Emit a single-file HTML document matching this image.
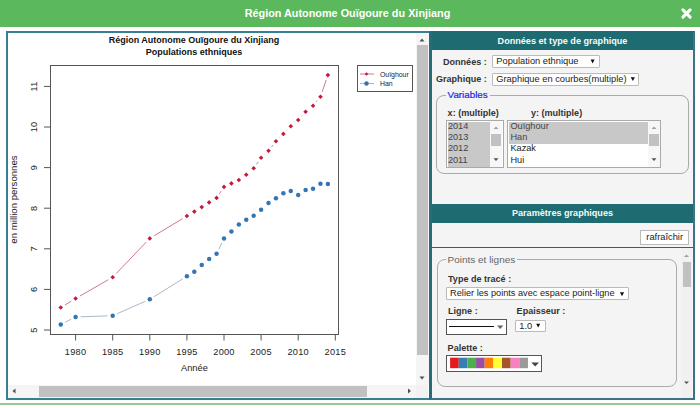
<!DOCTYPE html>
<html><head><meta charset="utf-8">
<style>
*{box-sizing:border-box;margin:0;padding:0}
html,body{width:700px;height:408px;overflow:hidden;background:#fff;font-family:"Liberation Sans",sans-serif;}
.abs{position:absolute}
#hdr{left:0;top:0;width:700px;height:26.5px;background:#5cb85c;}
#hdr .t{position:absolute;left:0;width:695px;top:7px;text-align:center;color:#fff;font-weight:bold;font-size:10.85px;white-space:nowrap}
#close{position:absolute;left:679.9px;top:6.5px;width:13px;height:13px}
#lp{left:6px;top:31px;width:425px;height:369px;border:2px solid #3a7f91;background:#fff}
#rp{left:429px;top:31px;width:266px;height:369px;border:2px solid #286c77;border-left-width:3px;border-right-color:#3c7486;border-bottom-color:#3c7486;background:#f4f4f4}
.th{position:absolute;background:#1f6b72;color:#f4fbfb;font-weight:bold;font-size:9.1px;text-align:center;white-space:nowrap}
.lbl{position:absolute;font-weight:bold;font-size:9.05px;color:#333;white-space:nowrap}
.sel{position:absolute;background:#fff;border:1px solid #bbb;border-radius:1px;font-size:9.3px;color:#222;white-space:nowrap;padding-left:3px}
.fs{position:absolute;border:1px solid #aaa;border-radius:8px}
.lg{position:absolute;background:#f4f4f4;padding:0 2px;font-size:9.8px;white-space:nowrap}
.lb{position:absolute;background:#fff;border:1px solid #aaa;font-size:9.2px;color:#222}
.lb div{height:11.4px;line-height:9.4px;white-space:nowrap}
.lb .s{background:#c8c8c8;color:#444}
.sb{position:absolute;background:#f5f5f5}
.th2{position:absolute;background:#c1c1c1}
svg text{font-family:"Liberation Sans",sans-serif}
.tk{font-size:9.2px;fill:#222;letter-spacing:0.25px}
</style></head><body>
<div id="hdr" class="abs"><div class="t">Région Autonome Ouïgoure du Xinjiang</div>
<svg id="close" viewBox="0 0 13 13"><path d="M2.9 2.9L10.1 10.1M10.1 2.9L2.9 10.1" stroke="#fff" stroke-width="3.1" stroke-linecap="round"/></svg></div>

<div id="lp" class="abs"></div>
<svg class="abs" style="left:0;top:0" width="700" height="408" viewBox="0 0 700 408">
<text x="194" y="43" text-anchor="middle" style="font-size:9px;font-weight:bold;fill:#111">Région Autonome Ouïgoure du Xinjiang</text>
<text x="194" y="54.5" text-anchor="middle" style="font-size:9px;font-weight:bold;fill:#111">Populations ethniques</text>
<rect x="50.5" y="65.5" width="288" height="269" fill="none" stroke="#555" stroke-width="1"/>
<line x1="44" y1="330.0" x2="50.5" y2="330.0" stroke="#555" stroke-width="1"/>
<text transform="translate(36.7 330.0) rotate(-90)" text-anchor="middle" class="tk">5</text>
<line x1="44" y1="289.4" x2="50.5" y2="289.4" stroke="#555" stroke-width="1"/>
<text transform="translate(36.7 289.4) rotate(-90)" text-anchor="middle" class="tk">6</text>
<line x1="44" y1="248.8" x2="50.5" y2="248.8" stroke="#555" stroke-width="1"/>
<text transform="translate(36.7 248.8) rotate(-90)" text-anchor="middle" class="tk">7</text>
<line x1="44" y1="208.2" x2="50.5" y2="208.2" stroke="#555" stroke-width="1"/>
<text transform="translate(36.7 208.2) rotate(-90)" text-anchor="middle" class="tk">8</text>
<line x1="44" y1="167.6" x2="50.5" y2="167.6" stroke="#555" stroke-width="1"/>
<text transform="translate(36.7 167.6) rotate(-90)" text-anchor="middle" class="tk">9</text>
<line x1="44" y1="127.0" x2="50.5" y2="127.0" stroke="#555" stroke-width="1"/>
<text transform="translate(36.7 127.0) rotate(-90)" text-anchor="middle" class="tk">10</text>
<line x1="44" y1="86.4" x2="50.5" y2="86.4" stroke="#555" stroke-width="1"/>
<text transform="translate(36.7 86.4) rotate(-90)" text-anchor="middle" class="tk">11</text>
<line x1="75.6" y1="334.5" x2="75.6" y2="340.5" stroke="#555" stroke-width="1"/>
<text x="75.6" y="355.3" text-anchor="middle" class="tk">1980</text>
<line x1="112.7" y1="334.5" x2="112.7" y2="340.5" stroke="#555" stroke-width="1"/>
<text x="112.7" y="355.3" text-anchor="middle" class="tk">1985</text>
<line x1="149.8" y1="334.5" x2="149.8" y2="340.5" stroke="#555" stroke-width="1"/>
<text x="149.8" y="355.3" text-anchor="middle" class="tk">1990</text>
<line x1="186.9" y1="334.5" x2="186.9" y2="340.5" stroke="#555" stroke-width="1"/>
<text x="186.9" y="355.3" text-anchor="middle" class="tk">1995</text>
<line x1="224.0" y1="334.5" x2="224.0" y2="340.5" stroke="#555" stroke-width="1"/>
<text x="224.0" y="355.3" text-anchor="middle" class="tk">2000</text>
<line x1="261.1" y1="334.5" x2="261.1" y2="340.5" stroke="#555" stroke-width="1"/>
<text x="261.1" y="355.3" text-anchor="middle" class="tk">2005</text>
<line x1="298.2" y1="334.5" x2="298.2" y2="340.5" stroke="#555" stroke-width="1"/>
<text x="298.2" y="355.3" text-anchor="middle" class="tk">2010</text>
<line x1="335.3" y1="334.5" x2="335.3" y2="340.5" stroke="#555" stroke-width="1"/>
<text x="335.3" y="355.3" text-anchor="middle" class="tk">2015</text>
<path d="M65.04 304.91L71.32 301.09M79.94 296.01L108.36 279.69M116.16 273.59L146.34 242.01M154.08 235.82L182.62 218.58M219.38 193.75L221.20 191.05M256.57 164.22L258.21 161.88M264.71 154.34L264.91 154.16M271.60 146.76L272.86 145.14M279.50 137.69L279.80 137.41M286.85 130.32L287.29 129.88M301.55 116.29L302.27 115.51M316.22 101.84L317.28 100.56M322.08 91.97L326.26 79.83" stroke="#d07890" stroke-width="1" fill="none"/>
<path d="M65.22 322.24L71.14 319.26M80.60 316.82L107.70 315.88M117.27 313.68L145.23 301.32M154.05 296.67L182.65 278.93M197.98 268.40L198.08 268.30M218.75 249.30L221.83 242.90M227.64 234.97L227.78 234.83M235.08 228.00L235.18 227.90" stroke="#aab8c8" stroke-width="1" fill="none"/>
<path d="M60.76 305.20L63.06 307.50L60.76 309.80L58.46 307.50Z" fill="#c41a3a"/>
<path d="M75.60 296.20L77.90 298.50L75.60 300.80L73.30 298.50Z" fill="#c41a3a"/>
<path d="M112.70 274.90L115.00 277.20L112.70 279.50L110.40 277.20Z" fill="#c41a3a"/>
<path d="M149.80 236.10L152.10 238.40L149.80 240.70L147.50 238.40Z" fill="#c41a3a"/>
<path d="M186.90 213.70L189.20 216.00L186.90 218.30L184.60 216.00Z" fill="#c41a3a"/>
<path d="M194.32 209.30L196.62 211.60L194.32 213.90L192.02 211.60Z" fill="#c41a3a"/>
<path d="M201.74 204.80L204.04 207.10L201.74 209.40L199.44 207.10Z" fill="#c41a3a"/>
<path d="M209.16 200.10L211.46 202.40L209.16 204.70L206.86 202.40Z" fill="#c41a3a"/>
<path d="M216.58 195.60L218.88 197.90L216.58 200.20L214.28 197.90Z" fill="#c41a3a"/>
<path d="M224.00 184.60L226.30 186.90L224.00 189.20L221.70 186.90Z" fill="#c41a3a"/>
<path d="M231.42 181.10L233.72 183.40L231.42 185.70L229.12 183.40Z" fill="#c41a3a"/>
<path d="M238.84 177.70L241.14 180.00L238.84 182.30L236.54 180.00Z" fill="#c41a3a"/>
<path d="M246.26 172.40L248.56 174.70L246.26 177.00L243.96 174.70Z" fill="#c41a3a"/>
<path d="M253.68 166.00L255.98 168.30L253.68 170.60L251.38 168.30Z" fill="#c41a3a"/>
<path d="M261.10 155.50L263.40 157.80L261.10 160.10L258.80 157.80Z" fill="#c41a3a"/>
<path d="M268.52 148.40L270.82 150.70L268.52 153.00L266.22 150.70Z" fill="#c41a3a"/>
<path d="M275.94 138.90L278.24 141.20L275.94 143.50L273.64 141.20Z" fill="#c41a3a"/>
<path d="M283.36 131.60L285.66 133.90L283.36 136.20L281.06 133.90Z" fill="#c41a3a"/>
<path d="M290.78 124.00L293.08 126.30L290.78 128.60L288.48 126.30Z" fill="#c41a3a"/>
<path d="M298.20 117.70L300.50 120.00L298.20 122.30L295.90 120.00Z" fill="#c41a3a"/>
<path d="M305.62 109.50L307.92 111.80L305.62 114.10L303.32 111.80Z" fill="#c41a3a"/>
<path d="M313.04 103.40L315.34 105.70L313.04 108.00L310.74 105.70Z" fill="#c41a3a"/>
<path d="M320.46 94.40L322.76 96.70L320.46 99.00L318.16 96.70Z" fill="#c41a3a"/>
<path d="M327.88 72.80L330.18 75.10L327.88 77.40L325.58 75.10Z" fill="#c41a3a"/>
<circle cx="60.76" cy="324.50" r="2.25" fill="#3576b2"/>
<circle cx="75.60" cy="317.00" r="2.25" fill="#3576b2"/>
<circle cx="112.70" cy="315.70" r="2.25" fill="#3576b2"/>
<circle cx="149.80" cy="299.30" r="2.25" fill="#3576b2"/>
<circle cx="186.90" cy="276.30" r="2.25" fill="#3576b2"/>
<circle cx="194.32" cy="271.80" r="2.25" fill="#3576b2"/>
<circle cx="201.74" cy="264.90" r="2.25" fill="#3576b2"/>
<circle cx="209.16" cy="259.10" r="2.25" fill="#3576b2"/>
<circle cx="216.58" cy="253.80" r="2.25" fill="#3576b2"/>
<circle cx="224.00" cy="238.40" r="2.25" fill="#3576b2"/>
<circle cx="231.42" cy="231.40" r="2.25" fill="#3576b2"/>
<circle cx="238.84" cy="224.50" r="2.25" fill="#3576b2"/>
<circle cx="246.26" cy="219.70" r="2.25" fill="#3576b2"/>
<circle cx="253.68" cy="215.80" r="2.25" fill="#3576b2"/>
<circle cx="261.10" cy="209.80" r="2.25" fill="#3576b2"/>
<circle cx="268.52" cy="203.10" r="2.25" fill="#3576b2"/>
<circle cx="275.94" cy="198.30" r="2.25" fill="#3576b2"/>
<circle cx="283.36" cy="193.30" r="2.25" fill="#3576b2"/>
<circle cx="290.78" cy="190.90" r="2.25" fill="#3576b2"/>
<circle cx="298.20" cy="195.00" r="2.25" fill="#3576b2"/>
<circle cx="305.62" cy="190.10" r="2.25" fill="#3576b2"/>
<circle cx="313.04" cy="188.80" r="2.25" fill="#3576b2"/>
<circle cx="320.46" cy="183.70" r="2.25" fill="#3576b2"/>
<circle cx="327.88" cy="184.00" r="2.25" fill="#3576b2"/>
<text x="194.4" y="371" text-anchor="middle" style="font-size:9.3px;fill:#222">Année</text>
<text transform="translate(16.6 199.5) rotate(-90)" text-anchor="middle" style="font-size:9.65px;fill:#222">en million personnes</text>
<rect x="357.5" y="65.5" width="55" height="26" fill="#fff" stroke="#555" stroke-width="1"/>
<line x1="360" y1="74" x2="374" y2="74" stroke="#d07890" stroke-width="1"/>
<path d="M366.5 72.2L368.3 74L366.5 75.8L364.7 74Z" fill="#c41a3a"/>
<line x1="360" y1="83.5" x2="374" y2="83.5" stroke="#aab8c8" stroke-width="1"/>
<circle cx="366.5" cy="83.5" r="2.2" fill="#3274b0"/>
<text x="380" y="76.5" style="font-size:6.9px;fill:#222">Ouïghour</text>
<text x="380" y="86" style="font-size:6.9px;fill:#222">Han</text>
</svg>
<!-- left scrollbars -->
<div class="sb" style="left:416px;top:33px;width:13px;height:352px"></div>
<div class="th2" style="left:416.6px;top:45px;width:11.6px;height:309.5px"></div>
<div class="sb" style="left:8px;top:385px;width:408px;height:13px"></div>
<div class="th2" style="left:39px;top:386px;width:328px;height:10.5px"></div>
<div class="sb" style="left:416px;top:385px;width:12px;height:13px;background:#f1f1f1"></div>
<svg class="abs" style="left:0;top:0" width="700" height="408">
<path d="M419.5 41.5L422 38.5L424.5 41.5Z" fill="#505050"/>
<path d="M419.5 376.5L422 379.5L424.5 376.5Z" fill="#505050"/>
<path d="M15.5 388.5L12.5 391L15.5 393.5Z" fill="#505050"/>
<path d="M408 388.5L411 391L408 393.5Z" fill="#505050"/>
</svg>

<div id="rp" class="abs"></div>
<div class="th" style="left:432px;width:261px;top:31px;height:18.5px;line-height:18.5px;padding-top:1px">Données et type de graphique</div>
<div class="lbl" style="left:443px;top:56.7px">Données :</div>
<div class="sel" style="left:492.3px;top:54.6px;width:107.3px;height:13.7px;line-height:11.5px">Population ethnique</div>
<div class="lbl" style="left:436px;top:73.7px">Graphique :</div>
<div class="sel" style="left:492.3px;top:72.5px;width:146.7px;height:13.3px;line-height:11.3px">Graphique en courbes(multiple)</div>
<svg class="abs" style="left:0;top:0" width="700" height="408">
<path d="M590.6 59.5L594.6 59.5L592.6 63.5Z" fill="#111"/>
<path d="M630.7 77.2L634.9 77.2L632.8 81.1Z" fill="#111"/>
</svg>
<div class="fs" style="left:436.2px;top:94.9px;width:253px;height:79px"></div>
<div class="lg" style="left:445.6px;top:89px;color:#2424e4;-webkit-text-stroke:0.2px #2424e4">Variables</div>
<div class="lbl" style="left:447.6px;top:107.5px">x: (multiple)</div>
<div class="lbl" style="left:530.9px;top:107.5px">y: (multiple)</div>
<div class="lb" style="left:445.9px;top:119.9px;width:58px;height:48px;padding:0.7px 1px">
 <div class="s" style="width:43px">2014</div><div class="s" style="width:43px">2013</div><div class="s" style="width:43px">2012</div><div class="s" style="width:43px">2011</div>
</div>
<div class="lb" style="left:507.1px;top:120px;width:153.5px;height:47.5px;padding:0.6px 1px">
 <div class="s" style="width:140px;padding-left:1.3px">Ouïghour</div><div class="s" style="width:140px;padding-left:1.3px">Han</div><div style="width:140px;padding-left:1.3px">Kazak</div><div style="width:140px;padding-left:1.3px">Hui</div>
</div>
<div class="sb" style="left:490px;top:121px;width:11.5px;height:46px;background:#f7f7f7"></div>
<div class="th2" style="left:491px;top:133.8px;width:9.8px;height:12.6px"></div>
<div class="sb" style="left:648px;top:121px;width:11.5px;height:45.5px;background:#f7f7f7"></div>
<div class="th2" style="left:649px;top:133.7px;width:9.8px;height:12px"></div>
<svg class="abs" style="left:0;top:0" width="700" height="408">
<path d="M493.5 129L496 126.5L498.5 129Z" fill="#a0a0a0"/>
<path d="M493.5 158.3L496 161L498.5 158.3Z" fill="#505050"/>
<path d="M651.5 129L654 126.5L656.5 129Z" fill="#a0a0a0"/>
<path d="M651.5 158.3L654 161L656.5 158.3Z" fill="#505050"/>
</svg>
<div class="th" style="left:432px;width:261px;top:204.1px;height:18.5px;line-height:18.5px">Paramètres graphiques</div>
<div class="abs" style="left:640px;top:230px;width:49.3px;height:14.8px;background:#fff;border:1px solid #bbb;font-size:9.3px;color:#222;text-align:center;line-height:12.5px">rafraîchir</div>
<div class="abs" style="left:432px;top:246.5px;width:261px;height:1.3px;background:#555"></div>
<div class="abs" style="left:432px;top:248px;width:261px;height:150px;background:#f4f4f4"></div>
<div class="fs" style="left:436.9px;top:259.4px;width:240px;height:127.6px"></div>
<div class="lg" style="left:445.6px;top:253.5px;color:#666;font-size:9.98px">Points et lignes</div>
<div class="sb" style="left:681.4px;top:248px;width:10.5px;height:150px;background:#f1f1f1"></div>
<div class="th2" style="left:682.5px;top:261.5px;width:8.5px;height:25.3px"></div>
<svg class="abs" style="left:0;top:0" width="700" height="408">
<path d="M684 257L686.5 254.5L689 257Z" fill="#a0a0a0"/>
<path d="M684 381.5L686.5 384L689 381.5Z" fill="#505050"/>
</svg>
<div class="lbl" style="left:448px;top:274px">Type de tracé :</div>
<div class="sel" style="left:446.3px;top:287.25px;width:183px;height:13px;line-height:11px;padding-left:2.8px;font-size:9.2px">Relier les points avec espace point-ligne</div>
<div class="lbl" style="left:448px;top:306px">Ligne :</div>
<div class="lbl" style="left:516.6px;top:306px">Epaisseur :</div>
<div class="abs" style="left:445.7px;top:318.5px;width:61.4px;height:16.3px;background:#fff;border:1px solid #555"></div>
<div class="abs" style="left:448.6px;top:326px;width:45.7px;height:1px;background:#111"></div>
<svg class="abs" style="left:0;top:0" width="700" height="408">
<path d="M619.9 292.2L624.1 292.2L622 296.2Z" fill="#111"/>
<path d="M497 325.5L503.4 325.5L500.2 329Z" fill="#666"/>
</svg>
<div class="sel" style="left:514.5px;top:319.5px;width:31px;height:12.8px;line-height:10.5px;padding-left:3.8px">1.0</div>
<svg class="abs" style="left:0;top:0" width="700" height="408"><path d="M536.2 323.8L540.2 323.8L538.2 327.6Z" fill="#111"/></svg>
<div class="lbl" style="left:447.6px;top:342.7px">Palette :</div>
<div class="abs" style="left:446.3px;top:354.9px;width:95.6px;height:16.8px;background:#fff;border:1px solid #555"></div>
<svg class="abs" style="left:0;top:0" width="700" height="408">
<rect x="450.1" y="357.7" width="8.65" height="10.5" fill="#e41a1c"/>
<rect x="458.75" y="357.7" width="8.65" height="10.5" fill="#377eb8"/>
<rect x="467.4" y="357.7" width="8.65" height="10.5" fill="#4daf4a"/>
<rect x="476.05" y="357.7" width="8.65" height="10.5" fill="#984ea3"/>
<rect x="484.7" y="357.7" width="8.65" height="10.5" fill="#ff7f00"/>
<rect x="493.35" y="357.7" width="8.65" height="10.5" fill="#ffff33"/>
<rect x="502" y="357.7" width="8.65" height="10.5" fill="#a65628"/>
<rect x="510.65" y="357.7" width="8.65" height="10.5" fill="#f781bf"/>
<rect x="519.3" y="357.7" width="8.65" height="10.5" fill="#999999"/>
<path d="M531.3 362.5L539 362.5L535.15 366.5Z" fill="#444"/>
</svg>
<div class="abs" style="left:0;top:403px;width:700px;height:2px;background:#93cc93"></div>
</body></html>
